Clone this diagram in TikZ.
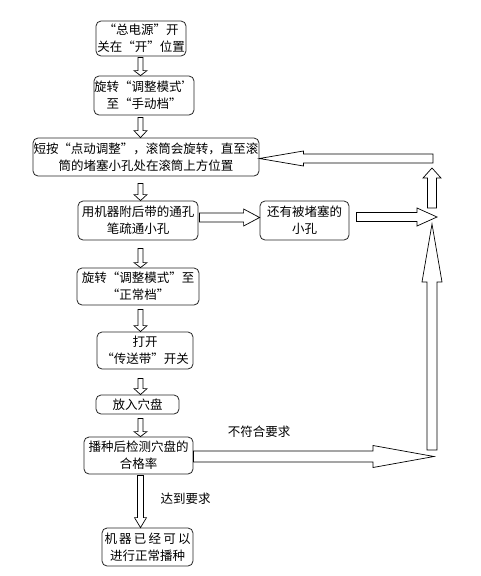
\documentclass[tikz,border=0pt]{standalone}
\usepackage{fontspec}
\setmainfont{Noto Sans CJK SC}[RawFeature=+fwid]
\usetikzlibrary{calc}
\tikzset{
  box/.style={draw=black!85, line width=0.8pt, rounded corners=5pt, fill=white,
    inner sep=0pt, align=center, font=\fontsize{12.5}{17}\selectfont},
  barr/.style={draw=black, line width=0.7pt, fill=white, line join=miter},
  lbl/.style={inner sep=0pt, font=\fontsize{12.5}{15}\selectfont}
}
\newcommand\varr[5]{\draw[barr] let \p1=(#1), \p2=(#2), \n1={sign(\y2-\y1)} in
  ({\x1-#3},\y1) -- ({\x1-#3},{\y2-(\n1)*#5}) -- ({\x1-#4},{\y2-(\n1)*#5}) -- (\x1,\y2)
  -- ({\x1+#4},{\y2-(\n1)*#5}) -- ({\x1+#3},{\y2-(\n1)*#5}) -- ({\x1+#3},\y1) -- cycle;}
\newcommand\harr[5]{\draw[barr] let \p1=(#1), \p2=(#2), \n1={sign(\x2-\x1)} in
  (\x1,{\y1-#3}) -- ({\x2-(\n1)*#5},{\y1-#3}) -- ({\x2-(\n1)*#5},{\y1-#4}) -- (\x2,\y1)
  -- ({\x2-(\n1)*#5},{\y1+#4}) -- ({\x2-(\n1)*#5},{\y1+#3}) -- (\x1,{\y1+#3}) -- cycle;}
\begin{document}
\begin{tikzpicture}[x=1pt,y=-1pt]
\useasboundingbox[fill=white] (0,0) rectangle (480,576);
% boxes
\node[box, minimum width=90, minimum height=35] (b1) at (141,38.5) {“总电源”开\\关在“开”位置};
\node[box, minimum width=96, minimum height=39] (b2) at (144,95.5) {旋转“调整模式’\\至“手动档”};
\node[box, minimum width=226, minimum height=38] (b3) at (146,157) {短按“点动调整”，滚筒会旋转，直至滚\\筒的堵塞小孔处在滚筒上方位置};
\node[box, minimum width=120, minimum height=39] (b4) at (138,220.5) {用机器附后带的通孔\\笔疏通小孔};
\node[box, minimum width=89, minimum height=39] (b5) at (304.5,220.5) {还有被堵塞的\\小孔};
\node[box, minimum width=122, minimum height=37] (b6) at (138,286.5) {旋转“调整模式”至\\“正常档”};
\node[box, minimum width=96, minimum height=37] (b7) at (145,350.5) {打开\\“传送带”开关};
\node[box, minimum width=83, minimum height=19] (b8) at (137.5,404.5) {放入穴盘};
\node[box, minimum width=109, minimum height=37] (b9) at (138.5,455.5) {播种后检测穴盘的\\合格率};
\node[box, minimum width=91, minimum height=38] (b10) at (147.5,547) {\makebox[86pt]{机\hfill 器\hfill 已\hfill 经\hfill 可\hfill 以}\\进行正常播种};
% labels
\node[lbl] (l1) at (259,432) {不符合要求};
\node[lbl] (l2) at (185.5,499) {达到要求};
% vertical arrow axis
\coordinate (ax) at (140.5,0);
\coordinate (a1s) at ($(ax|-b1.south)+(0,1)$);  \coordinate (a1e) at (ax|-b2.north);
\coordinate (a2s) at ($(ax|-b2.south)+(0,2)$);  \coordinate (a2e) at (ax|-b3.north);
\coordinate (a3s) at ($(ax|-b3.south)+(0,7)$);  \coordinate (a3e) at (ax|-b4.north);
\coordinate (a4s) at ($(ax|-b4.south)+(0,8)$);  \coordinate (a4e) at (ax|-b6.north);
\coordinate (a5s) at ($(ax|-b6.south)+(0,4)$);  \coordinate (a5e) at (ax|-b7.north);
\coordinate (a6s) at ($(ax|-b7.south)+(0,9)$);  \coordinate (a6e) at (ax|-b8.north);
\coordinate (a7s) at ($(ax|-b8.south)+(0,4)$);  \coordinate (a7e) at (ax|-b9.north);
\coordinate (a8s) at ($(ax|-b9.south)+(0,1)$);  \coordinate (a8e) at (ax|-b10.north);
\varr{a1s}{a1e}{2.5pt}{6.5pt}{5pt}
\varr{a2s}{a2e}{2.5pt}{6.5pt}{7pt}
\varr{a3s}{a3e}{2.5pt}{6.5pt}{6pt}
\varr{a4s}{a4e}{2.5pt}{6.5pt}{5pt}
\varr{a5s}{a5e}{2.5pt}{6.5pt}{6pt}
\varr{a6s}{a6e}{2.5pt}{6.5pt}{6pt}
\varr{a7s}{a7e}{2.5pt}{6.5pt}{5pt}
\varr{a8s}{a8e}{3pt}{6pt}{10pt}
% horizontal arrows
\coordinate (h1s) at ($(b4.east)+(1,-3)$);  \coordinate (h1e) at ($(b5.west)+(0,-3)$);
\harr{h1s}{h1e}{4.5pt}{8.5pt}{16pt}
\coordinate (h2s) at ($(b5.east)+(7,-3.5)$); \coordinate (j1) at (437,217);
\harr{h2s}{j1}{4.5pt}{9pt}{20pt}
\coordinate (h3s) at ($(b9.east)+(0,1)$); \coordinate (j2) at (434,456.5);
\harr{h3s}{j2}{5.5pt}{11pt}{61pt}
% right side loop
\coordinate (c4) at (432,450); \coordinate (c5) at (432,224);
\varr{c4}{c5}{5pt}{10pt}{58pt}
\coordinate (c1) at (432,208); \coordinate (c2) at (432,168);
\varr{c1}{c2}{4.5pt}{9pt}{10pt}
\coordinate (c3) at (433,158.5); \coordinate (h4e) at ($(b3.east)+(0,1.5)$);
\harr{c3}{h4e}{4.5pt}{7.5pt}{44pt}
\end{tikzpicture}
\end{document}
